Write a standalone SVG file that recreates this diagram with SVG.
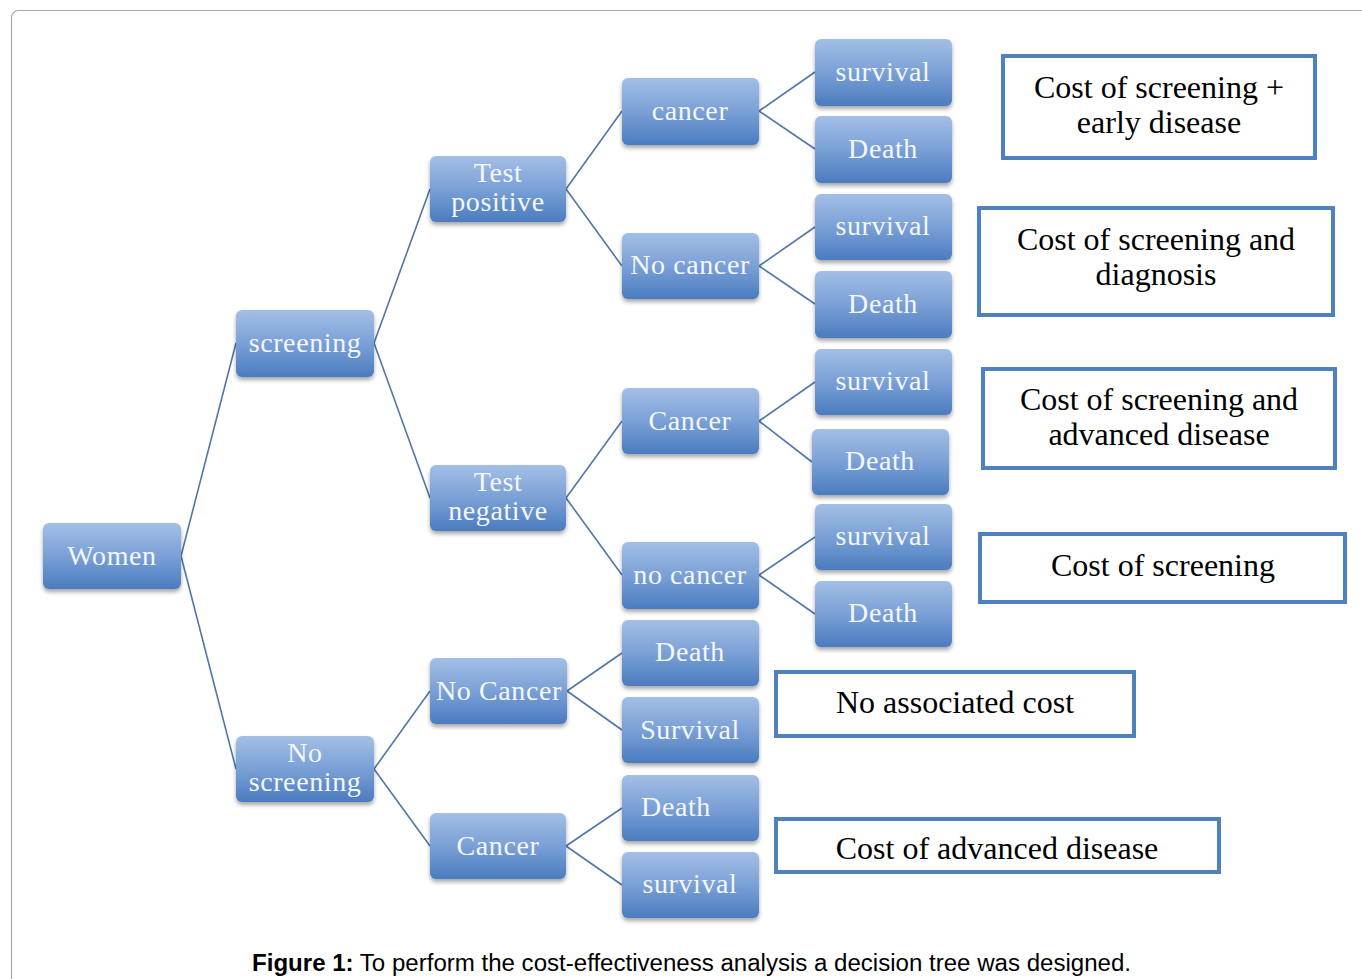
<svg xmlns="http://www.w3.org/2000/svg" width="1362" height="979" viewBox="0 0 1362 979">
<defs>
<linearGradient id="g" x1="0" y1="0" x2="0" y2="1">
<stop offset="0" stop-color="#a3bfe6"/>
<stop offset="0.5" stop-color="#7aa0d6"/>
<stop offset="1" stop-color="#4a7cc0"/>
</linearGradient>
<filter id="sh" x="-10%" y="-10%" width="120%" height="130%">
<feGaussianBlur in="SourceAlpha" stdDeviation="2"/>
<feOffset dx="0" dy="3"/>
<feComponentTransfer><feFuncA type="linear" slope="0.35"/></feComponentTransfer>
<feMerge><feMergeNode/><feMergeNode in="SourceGraphic"/></feMerge>
</filter>
</defs>
<style>
.n rect{fill:url(#g);filter:url(#sh)}
.n text{font-family:"Liberation Serif",serif;font-size:28px;fill:#f4f7fc;text-anchor:middle;letter-spacing:0.6px}
.c rect{fill:#ffffff;stroke:#4f81bd;stroke-width:4}
.c text{font-family:"Liberation Serif",serif;font-size:32px;fill:#000000;text-anchor:middle}
#edges line{stroke:#4f76aa;stroke-width:1.6}
</style>
<rect x="11.5" y="10.5" width="1400" height="1000" rx="7" fill="#ffffff" stroke="#a8a8a8" stroke-width="1.2"/>
<g id="edges">
<line x1="181" y1="556" x2="236" y2="343"/>
<line x1="181" y1="556" x2="236" y2="769"/>
<line x1="374" y1="343" x2="430" y2="189"/>
<line x1="374" y1="343" x2="430" y2="498"/>
<line x1="374" y1="769" x2="430" y2="691"/>
<line x1="374" y1="769" x2="430" y2="846"/>
<line x1="566" y1="189" x2="622" y2="111"/>
<line x1="566" y1="189" x2="622" y2="266"/>
<line x1="566" y1="498" x2="622" y2="421"/>
<line x1="566" y1="498" x2="622" y2="575"/>
<line x1="567" y1="691" x2="622" y2="653"/>
<line x1="567" y1="691" x2="622" y2="730"/>
<line x1="566" y1="846" x2="622" y2="808"/>
<line x1="566" y1="846" x2="622" y2="885"/>
<line x1="759" y1="111" x2="815" y2="72"/>
<line x1="759" y1="111" x2="815" y2="149"/>
<line x1="759" y1="266" x2="815" y2="227"/>
<line x1="759" y1="266" x2="815" y2="304"/>
<line x1="759" y1="421" x2="815" y2="382"/>
<line x1="759" y1="421" x2="812" y2="462"/>
<line x1="759" y1="575" x2="815" y2="537"/>
<line x1="759" y1="575" x2="815" y2="614"/>
</g>
<g id="women" class="n"><rect x="43" y="523" width="138" height="66" rx="6"/><text x="112" y="565">Women</text></g>
<g id="screening" class="n"><rect x="236" y="310" width="138" height="67" rx="6"/><text x="305" y="352">screening</text></g>
<g id="no-screening" class="n"><rect x="236" y="736" width="138" height="66" rx="6"/><text x="305" y="762">No</text><text x="305" y="791">screening</text></g>
<g id="test-positive" class="n"><rect x="430" y="156" width="136" height="66" rx="6"/><text x="498" y="182">Test</text><text x="498" y="211">positive</text></g>
<g id="test-negative" class="n"><rect x="430" y="465" width="136" height="66" rx="6"/><text x="498" y="491">Test</text><text x="498" y="520">negative</text></g>
<g id="no-cancer-ns" class="n"><rect x="430" y="658" width="137" height="66" rx="6"/><text x="499" y="700">No Cancer</text></g>
<g id="cancer-ns" class="n"><rect x="430" y="813" width="136" height="66" rx="6"/><text x="498" y="855">Cancer</text></g>
<g id="cancer-tp" class="n"><rect x="622" y="78" width="137" height="67" rx="6"/><text x="690" y="120">cancer</text></g>
<g id="no-cancer-tp" class="n"><rect x="622" y="233" width="137" height="66" rx="6"/><text x="690" y="274">No cancer</text></g>
<g id="cancer-tn" class="n"><rect x="622" y="388" width="137" height="66" rx="6"/><text x="690" y="430">Cancer</text></g>
<g id="no-cancer-tn" class="n"><rect x="622" y="542" width="137" height="67" rx="6"/><text x="690" y="584">no cancer</text></g>
<g id="death-nc-ns" class="n"><rect x="622" y="620" width="137" height="66" rx="6"/><text x="690" y="661">Death</text></g>
<g id="survival-nc-ns" class="n"><rect x="622" y="697" width="137" height="66" rx="6"/><text x="690" y="739">Survival</text></g>
<g id="death-c-ns" class="n"><rect x="622" y="775" width="137" height="66" rx="6"/><text x="676" y="816">Death</text></g>
<g id="survival-c-ns" class="n"><rect x="622" y="852" width="137" height="66" rx="6"/><text x="690" y="893">survival</text></g>
<g id="survival-1" class="n"><rect x="815" y="39" width="137" height="67" rx="6"/><text x="883" y="81">survival</text></g>
<g id="death-1" class="n"><rect x="815" y="116" width="137" height="67" rx="6"/><text x="883" y="158">Death</text></g>
<g id="survival-2" class="n"><rect x="815" y="194" width="137" height="66" rx="6"/><text x="883" y="235">survival</text></g>
<g id="death-2" class="n"><rect x="815" y="271" width="137" height="67" rx="6"/><text x="883" y="313">Death</text></g>
<g id="survival-3" class="n"><rect x="815" y="349" width="137" height="66" rx="6"/><text x="883" y="390">survival</text></g>
<g id="death-3" class="n"><rect x="812" y="429" width="137" height="66" rx="6"/><text x="880" y="470">Death</text></g>
<g id="survival-4" class="n"><rect x="815" y="504" width="137" height="66" rx="6"/><text x="883" y="545">survival</text></g>
<g id="death-4" class="n"><rect x="815" y="581" width="137" height="66" rx="6"/><text x="883" y="622">Death</text></g>
<g id="cost-1" class="c"><rect x="1003" y="56" width="312" height="102"/><text x="1159" y="98">Cost of screening +</text><text x="1159" y="133">early disease</text></g>
<g id="cost-2" class="c"><rect x="979" y="208" width="354" height="107"/><text x="1156" y="250">Cost of screening and</text><text x="1156" y="285">diagnosis</text></g>
<g id="cost-3" class="c"><rect x="983" y="369" width="352" height="99"/><text x="1159" y="410">Cost of screening and</text><text x="1159" y="445">advanced disease</text></g>
<g id="cost-4" class="c"><rect x="980" y="534" width="365" height="68"/><text x="1163" y="576">Cost of screening</text></g>
<g id="cost-5" class="c"><rect x="776" y="672" width="358" height="64"/><text x="955" y="713">No associated cost</text></g>
<g id="cost-6" class="c"><rect x="776" y="819" width="443" height="53"/><text x="997" y="859">Cost of advanced disease</text></g>
<text x="252" y="971" font-family="'Liberation Sans',Arial,sans-serif" font-size="23" fill="#000000" textLength="879" lengthAdjust="spacingAndGlyphs"><tspan font-weight="bold">Figure 1:</tspan> To perform the cost-effectiveness analysis a decision tree was designed.</text>
</svg>
